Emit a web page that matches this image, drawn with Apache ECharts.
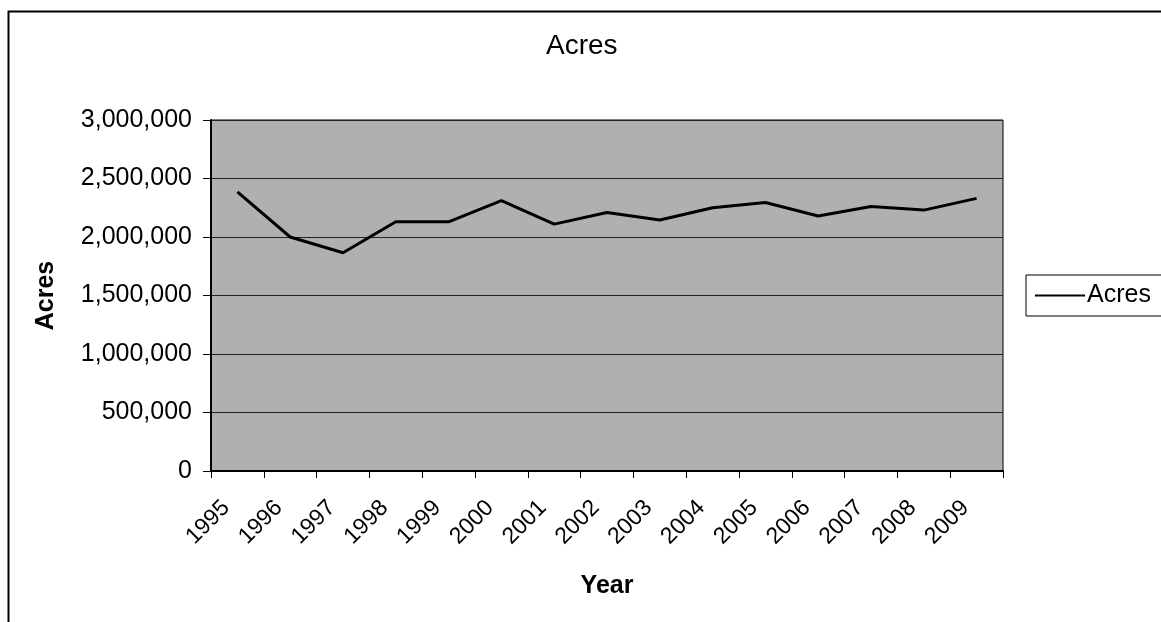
<!DOCTYPE html>
<html>
<head>
<meta charset="utf-8">
<script src="https://cdn.jsdelivr.net/npm/echarts@6/dist/echarts.min.js"></script>
<style>
  html, body { margin: 0; padding: 0; background: #fff; }
  #chart { width: 1161px; height: 622px; }
</style>
</head>
<body>
<div id="chart"></div>
<script>
var years = ['1995', '1996', '1997', '1998', '1999', '2000', '2001', '2002', '2003', '2004', '2005', '2006', '2007', '2008', '2009']
var acres = [2385000, 2000000, 1865000, 2130000, 2130000, 2310000, 2110000, 2210000, 2145000, 2250000, 2295000, 2180000, 2260000, 2230000, 2330000]
var yTicks = [0, 500000, 1000000, 1500000, 2000000, 2500000, 3000000]

var font = 'Liberation Sans, Arial, sans-serif'
var myChart = echarts.init(document.getElementById('chart'))

var option = {
  animation: false,
  backgroundColor: '#fff',
  title: {
    text: 'Acres',
    left: 546,
    top: 32,
    padding: 0,
    textStyle: { fontFamily: font, fontSize: 28, fontWeight: 'normal', color: '#000' }
  },
  legend: {
    left: 1026,
    top: 275,
    orient: 'vertical',
    itemWidth: 50,
    itemHeight: 10,
    itemGap: 0,
    padding: [8, 20, 8, 9],
    borderColor: '#000',
    borderWidth: 1,
    borderRadius: 0,
    icon: 'path://M0,4L50,4L50,6L0,6Z',
    textStyle: { fontFamily: font, fontSize: 25, color: '#000', padding: [0, 0, 0, -3] },
    data: [{ name: 'Acres', itemStyle: { color: '#000' } }]
  },
  graphic: [
    {
      type: 'rect',
      left: 6,
      top: 9,
      shape: { width: 1200, height: 700 },
      style: { fill: 'none', stroke: '#000', lineWidth: 2 },
      silent: true
    }
  ],
  grid: {
    left: 211,
    right: 158,
    top: 120,
    bottom: 151,
    show: true,
    backgroundColor: '#b0b0b0',
    borderColor: '#000',
    borderWidth: 1
  },
  xAxis: {
    type: 'category',
    data: years,
    boundaryGap: true,
    name: 'Year',
    nameLocation: 'middle',
    nameGap: 103,
    nameTextStyle: { fontFamily: font, fontSize: 25, fontWeight: 'bold', color: '#000' },
    axisLine: { lineStyle: { color: '#000', width: 2 } },
    axisTick: { show: true, length: 7, lineStyle: { color: '#000', width: 1 } },
    axisLabel: {
      rotate: 45,
      margin: 22,
      padding: [0, 16, 0, 0],
      fontFamily: font,
      fontSize: 23,
      color: '#000'
    }
  },
  yAxis: {
    type: 'value',
    min: yTicks[0],
    max: yTicks[yTicks.length - 1],
    interval: 500000,
    name: 'Acres',
    nameLocation: 'middle',
    nameGap: 152,
    nameTextStyle: { fontFamily: font, fontSize: 25, fontWeight: 'bold', color: '#000' },
    axisLine: { show: true, lineStyle: { color: '#000', width: 2 } },
    axisTick: { show: true, length: 8, lineStyle: { color: '#000', width: 1 } },
    splitLine: { show: true, lineStyle: { color: '#222', width: 1 } },
    axisLabel: {
      margin: 19,
      fontFamily: font,
      fontSize: 25,
      color: '#000',
      formatter: function (v) {
        return v.toLocaleString('en-US')
      }
    }
  },
  series: [
    {
      name: 'Acres',
      type: 'line',
      data: acres,
      symbol: 'none',
      lineStyle: { color: '#000', width: 3 },
      itemStyle: { color: '#000' }
    }
  ]
}

myChart.setOption(option)
window.addEventListener('resize', function () { myChart.resize() })
</script>
</body>
</html>
